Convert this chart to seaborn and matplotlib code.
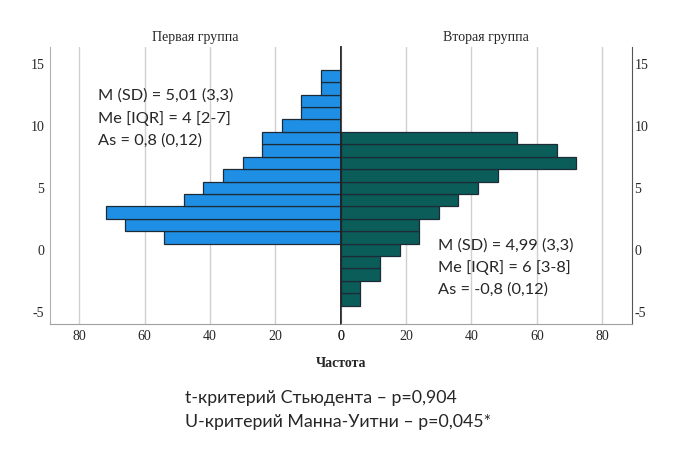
import numpy as np
import pandas as pd
import matplotlib
matplotlib.use('Agg')
import matplotlib.pyplot as plt
import seaborn as sns

# histogram bins (value) and counts for both groups
group1_values = [1, 2, 3, 4, 5, 6, 7, 8, 9, 10, 11, 12, 13, 14]
group1_counts = [54, 66, 72, 48, 42, 36, 30, 24, 24, 18, 12, 12, 6, 6]
group2_values = [-4, -3, -2, -1, 0, 1, 2, 3, 4, 5, 6, 7, 8, 9]
group2_counts = [6, 6, 12, 12, 18, 24, 24, 30, 36, 42, 48, 72, 66, 54]

freq_ticks = [0, 20, 40, 60, 80]
value_ticks = [-5, 0, 5, 10, 15]

group1_title = 'Первая группа'
group2_title = 'Вторая группа'
xlabel = 'Частота'
group1_stats = 'M (SD) = 5,01 (3,3)\nMe [IQR] = 4 [2-7]\nAs = 0,8 (0,12)'
group2_stats = 'M (SD) = 4,99 (3,3)\nMe [IQR] = 6 [3-8]\nAs = -0,8 (0,12)'
tests_text = 't-критерий Стьюдента – p=0,904\nU-критерий Манна-Уитни – p=0,045*'

color_palette = ['#1f8fe5', '#0b5d5a']

sns.set_style('white')
plt.rcParams['font.family'] = ['Liberation Serif', 'DejaVu Serif']
plt.rcParams['axes.unicode_minus'] = False

fig = plt.figure(figsize=(6.8, 4.68), dpi=100)
ax_left = fig.add_axes([0.0735, 0.307, 0.4275, 0.593])
ax_right = fig.add_axes([0.501, 0.307, 0.428, 0.593])

df1 = pd.DataFrame({'value': group1_values, 'count': group1_counts})
df2 = pd.DataFrame({'value': group2_values, 'count': group2_counts})

sns.barplot(data=df1, x='count', y='value', orient='h', native_scale=True,
            width=1, color=color_palette[0], saturation=1,
            edgecolor='#1c2b36', linewidth=0.9, ax=ax_left)
sns.barplot(data=df2, x='count', y='value', orient='h', native_scale=True,
            width=1, color=color_palette[1], saturation=1,
            edgecolor='#1c2b36', linewidth=0.9, ax=ax_right)

for ax in (ax_left, ax_right):
    ax.set_ylim(-6, 16.35)
    ax.set_yticks(value_ticks)
    ax.set_xticks(freq_ticks)
    ax.set_xticklabels([str(t) for t in freq_ticks])
    ax.set_xlabel('')
    ax.set_ylabel('')
    ax.set_axisbelow(True)
    ax.grid(True, axis='x', color='#d0d0d0', linewidth=1)
    ax.grid(False, axis='y')
    ax.tick_params(axis='both', length=0, labelsize=10, pad=4)
    ax.spines['top'].set_visible(False)
    ax.spines['bottom'].set_color('#a0a0a0')

ax_left.set_xlim(89, 0)
ax_right.set_xlim(0, 89)

ax_left.spines['left'].set_color('#b0b0b0')
ax_left.spines['right'].set_color('#222222')
ax_left.spines['right'].set_linewidth(1.1)
ax_right.spines['left'].set_color('#222222')
ax_right.spines['left'].set_linewidth(1.1)
ax_right.spines['right'].set_color('#555555')
ax_right.yaxis.tick_right()
ax_right.tick_params(axis='y', pad=2)

ax_left.set_title(group1_title, fontsize=10, pad=4)
ax_right.set_title(group2_title, fontsize=10, pad=4)
fig.text(0.502, 0.224, xlabel, ha='center', va='center', fontsize=10, fontweight='bold')

stats_font = ['Lato', 'DejaVu Sans']
fig.text(0.144, 0.748, group1_stats, ha='left', va='center', fontsize=11.8,
         family=stats_font, linespacing=1.65)
fig.text(0.644, 0.428, group2_stats, ha='left', va='center', fontsize=11.8,
         family=stats_font, linespacing=1.65)
fig.text(0.272, 0.124, tests_text, ha='left', va='center', fontsize=12.8,
         family=stats_font, linespacing=1.55)

plt.savefig('out.png', dpi=100)
